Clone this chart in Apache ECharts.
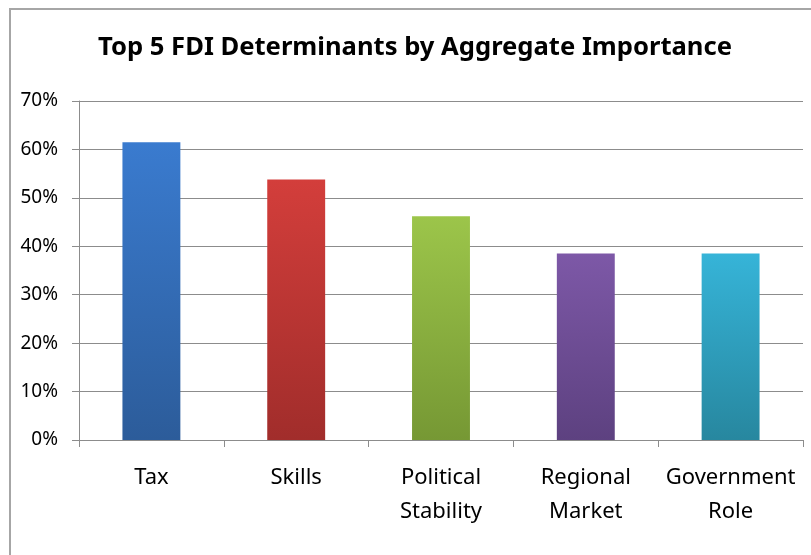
<!DOCTYPE html>
<html>
<head>
<meta charset="utf-8">
<script src="https://cdn.jsdelivr.net/npm/echarts@6/dist/echarts.min.js"></script>
<style>html,body{margin:0;padding:0;background:#fff;}#c{width:811px;height:555px;}</style>
</head>
<body>
<div id="c"></div>
<script>
var categories = ['Tax', 'Skills', 'Political\nStability', 'Regional\nMarket', 'Government\nRole'];
var values = [61.5, 53.8, 46.2, 38.5, 38.5];
var topColors = ['#3a7bcf', '#d33e3b', '#9cc54a', '#7d58a7', '#36b4d8'];
var bottomColors = ['#2c5c9a', '#a12d2b', '#769834', '#5d4180', '#27879f'];
var yTicks = [0, 10, 20, 30, 40, 50, 60, 70];

var chart = echarts.init(document.getElementById('c'));
var font = '"Noto Sans", "Open Sans", sans-serif';
chart.setOption({
  backgroundColor: '#fff',
  animation: false,
  graphic: [{
    type: 'rect', silent: true, z: -1,
    shape: {x: 10, y: 9, width: 900, height: 700},
    style: {fill: 'none', stroke: '#a6a6a6', lineWidth: 2}
  }],
  title: {
    text: 'Top 5 FDI Determinants by Aggregate Importance',
    left: 93, top: 30,
    textStyle: {fontFamily: font, fontWeight: 'bold', fontSize: 25.6, color: '#000'}
  },
  grid: {left: 79, right: 8, top: 101, bottom: 115, containLabel: false},
  xAxis: {
    type: 'category',
    data: categories,
    axisLine: {lineStyle: {color: '#8c8c8c', width: 1}},
    axisTick: {show: true, length: 7, lineStyle: {color: '#8c8c8c'}},
    axisLabel: {fontFamily: font, fontSize: 22, color: '#000', lineHeight: 34, margin: 21, interval: 0}
  },
  yAxis: {
    type: 'value', min: 0, max: 70, interval: 10,
    axisLine: {show: true, lineStyle: {color: '#8c8c8c'}},
    axisTick: {show: true, length: 7, lineStyle: {color: '#8c8c8c'}},
    splitLine: {lineStyle: {color: '#8c8c8c', width: 1}},
    axisLabel: {fontFamily: font, fontSize: 19, color: '#000', margin: 21,
      formatter: function(v){ return yTicks.indexOf(v) >= 0 ? v + '%' : ''; }}
  },
  series: [{
    type: 'bar',
    barWidth: '40%',
    data: values.map(function(v, i){
      return {value: v, itemStyle: {color: new echarts.graphic.LinearGradient(0, 0, 0, 1, [
        {offset: 0, color: topColors[i]}, {offset: 1, color: bottomColors[i]}])}};
    })
  }]
});
</script>
</body>
</html>
